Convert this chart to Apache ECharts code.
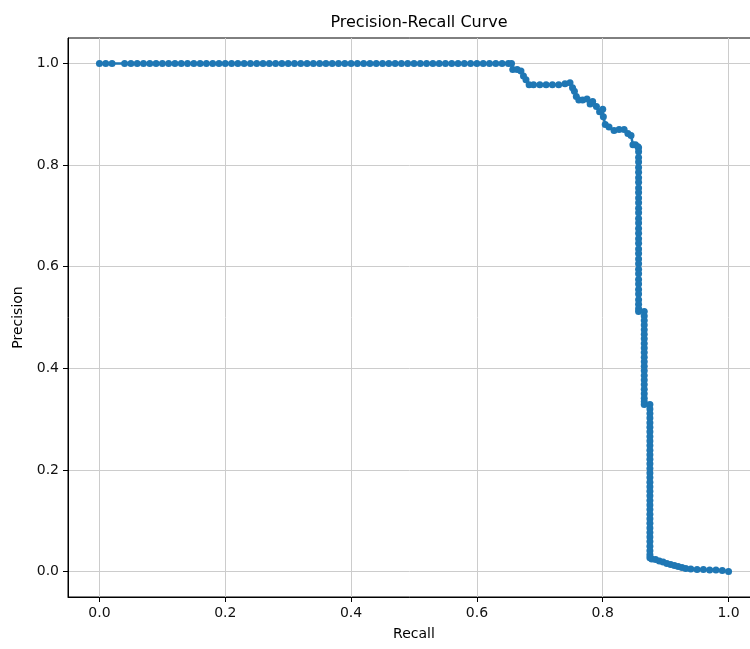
<!DOCTYPE html>
<html>
<head>
<meta charset="utf-8">
<script src="https://cdn.jsdelivr.net/npm/echarts@6/dist/echarts.min.js"></script>
<style>
html, body { margin: 0; padding: 0; background: #fff; }
#main { width: 750px; height: 649px; }
</style>
</head>
<body>
<div id="main"></div>
<script>
// plateau at precision 1.0
var plateauRecall = [0, 0.01, 0.02, 0.04, 0.05, 0.06, 0.07, 0.08, 0.09, 0.10,
    0.11, 0.12, 0.13, 0.14, 0.15, 0.16, 0.17, 0.18, 0.19, 0.20,
    0.21, 0.22, 0.23, 0.24, 0.25, 0.26, 0.27, 0.28, 0.29, 0.30,
    0.31, 0.32, 0.33, 0.34, 0.35, 0.36, 0.37, 0.38, 0.39, 0.40,
    0.41, 0.42, 0.43, 0.44, 0.45, 0.46, 0.47, 0.48, 0.49, 0.50,
    0.51, 0.52, 0.53, 0.54, 0.55, 0.56, 0.57, 0.58, 0.59, 0.60,
    0.61, 0.62, 0.63, 0.64, 0.65, 0.655];
var plateauPrecision = 1.0;

// staircase between recall 0.65 and 0.86
var stepRecall = [0.657, 0.664, 0.670, 0.674, 0.678, 0.683, 0.690, 0.700, 0.710, 0.720,
    0.730, 0.740, 0.748, 0.752, 0.755, 0.758, 0.762, 0.768, 0.775, 0.780,
    0.784, 0.790, 0.795, 0.800, 0.801, 0.804, 0.810, 0.818, 0.826, 0.834,
    0.840, 0.845, 0.848, 0.852, 0.856];
var stepPrecision = [0.988, 0.988, 0.985, 0.975, 0.968, 0.958, 0.958, 0.958, 0.958, 0.958,
    0.958, 0.960, 0.962, 0.952, 0.945, 0.935, 0.928, 0.928, 0.930, 0.920,
    0.925, 0.915, 0.905, 0.910, 0.895, 0.880, 0.875, 0.868, 0.870, 0.870,
    0.862, 0.858, 0.840, 0.840, 0.836];

// three near-vertical drops
var dropRecall = [0.857, 0.866, 0.875];
var drop1Precision = [0.834, 0.826, 0.815, 0.806, 0.795, 0.786, 0.775, 0.766, 0.755, 0.746,
    0.735, 0.726, 0.715, 0.706, 0.695, 0.686, 0.675, 0.666, 0.655, 0.646,
    0.635, 0.626, 0.615, 0.606, 0.595, 0.586, 0.575, 0.566, 0.555, 0.546,
    0.535, 0.526, 0.517, 0.512];
var drop2Precision = [0.512, 0.503, 0.494, 0.485, 0.476, 0.467, 0.458, 0.449, 0.440, 0.431,
    0.422, 0.413, 0.404, 0.395, 0.386, 0.377, 0.368, 0.359, 0.350, 0.341,
    0.334, 0.329];
var drop3Precision = [0.329, 0.320, 0.311, 0.302, 0.293, 0.284, 0.275, 0.266, 0.257, 0.248,
    0.239, 0.230, 0.221, 0.212, 0.203, 0.194, 0.185, 0.176, 0.167, 0.158,
    0.149, 0.140, 0.131, 0.122, 0.113, 0.104, 0.095, 0.086, 0.077, 0.068,
    0.059, 0.050, 0.041, 0.033, 0.027];

// tail near zero
var tailRecall = [0.878, 0.884, 0.890, 0.896, 0.902, 0.908, 0.914, 0.920, 0.926, 0.932,
    0.940, 0.950, 0.960, 0.970, 0.980, 0.990, 1.000];
var tailPrecision = [0.025, 0.024, 0.021, 0.019, 0.016, 0.014, 0.012, 0.010, 0.008, 0.006,
    0.005, 0.004, 0.004, 0.003, 0.003, 0.002, 0.000];

var xTicks = [0, 0.2, 0.4, 0.6, 0.8, 1.0];
var yTicks = [0, 0.2, 0.4, 0.6, 0.8, 1.0];

var curve = [];
plateauRecall.forEach(function (r) { curve.push([r, plateauPrecision]); });
stepRecall.forEach(function (r, i) { curve.push([r, stepPrecision[i]]); });
drop1Precision.forEach(function (p) { curve.push([dropRecall[0], p]); });
drop2Precision.forEach(function (p) { curve.push([dropRecall[1], p]); });
drop3Precision.forEach(function (p) { curve.push([dropRecall[2], p]); });
tailRecall.forEach(function (r, i) { curve.push([r, tailPrecision[i]]); });

var font = 'DejaVu Sans';

function tickLabel(v) {
    return v.toFixed(1);
}

var option = {
    animation: false,
    backgroundColor: '#fff',
    title: {
        text: 'Precision-Recall Curve',
        left: 414,
        top: 10,
        textAlign: 'center',
        textStyle: { fontFamily: font, fontSize: 16, fontWeight: 'normal', color: '#000' }
    },
    grid: {
        left: 68,
        top: 38,
        right: -10,
        bottom: 52,
        show: true,
        borderColor: '#000',
        borderWidth: 1,
        containLabel: false,
        outerBoundsMode: 'none'
    },
    xAxis: {
        type: 'value',
        min: -0.05,
        max: 1.05,
        name: 'Recall',
        nameLocation: 'middle',
        nameGap: 30,
        nameTextStyle: { fontFamily: font, fontSize: 14, color: '#000' },
        axisLine: { show: true, onZero: false, lineStyle: { color: '#000', width: 1 } },
        axisTick: { show: true, length: 5, customValues: xTicks, lineStyle: { color: '#000', width: 1 } },
        axisLabel: {
            customValues: xTicks,
            formatter: tickLabel,
            margin: 9,
            fontFamily: font,
            fontSize: 14,
            color: '#111'
        },
        splitLine: { show: true, lineStyle: { color: '#cccccc', width: 1 } }
    },
    yAxis: {
        type: 'value',
        min: -0.05,
        max: 1.05,
        name: 'Precision',
        nameLocation: 'middle',
        nameGap: 42,
        nameTextStyle: { fontFamily: font, fontSize: 14, color: '#000' },
        axisLine: { show: true, onZero: false, lineStyle: { color: '#000', width: 1 } },
        axisTick: { show: true, length: 5, customValues: yTicks, lineStyle: { color: '#000', width: 1 } },
        axisLabel: {
            customValues: yTicks,
            formatter: tickLabel,
            margin: 9,
            fontFamily: font,
            fontSize: 14,
            color: '#111'
        },
        splitLine: { show: true, lineStyle: { color: '#cccccc', width: 1 } }
    },
    series: [
        {
            name: 'PR',
            type: 'line',
            data: curve,
            symbol: 'circle',
            symbolSize: 7,
            showSymbol: true,
            showAllSymbol: true,
            itemStyle: { color: '#1f77b4' },
            lineStyle: { color: '#1f77b4', width: 2.5 },
            emphasis: { disabled: true }
        }
    ]
};

var myChart = echarts.init(document.getElementById('main'));
myChart.setOption(option);
</script>
</body>
</html>
